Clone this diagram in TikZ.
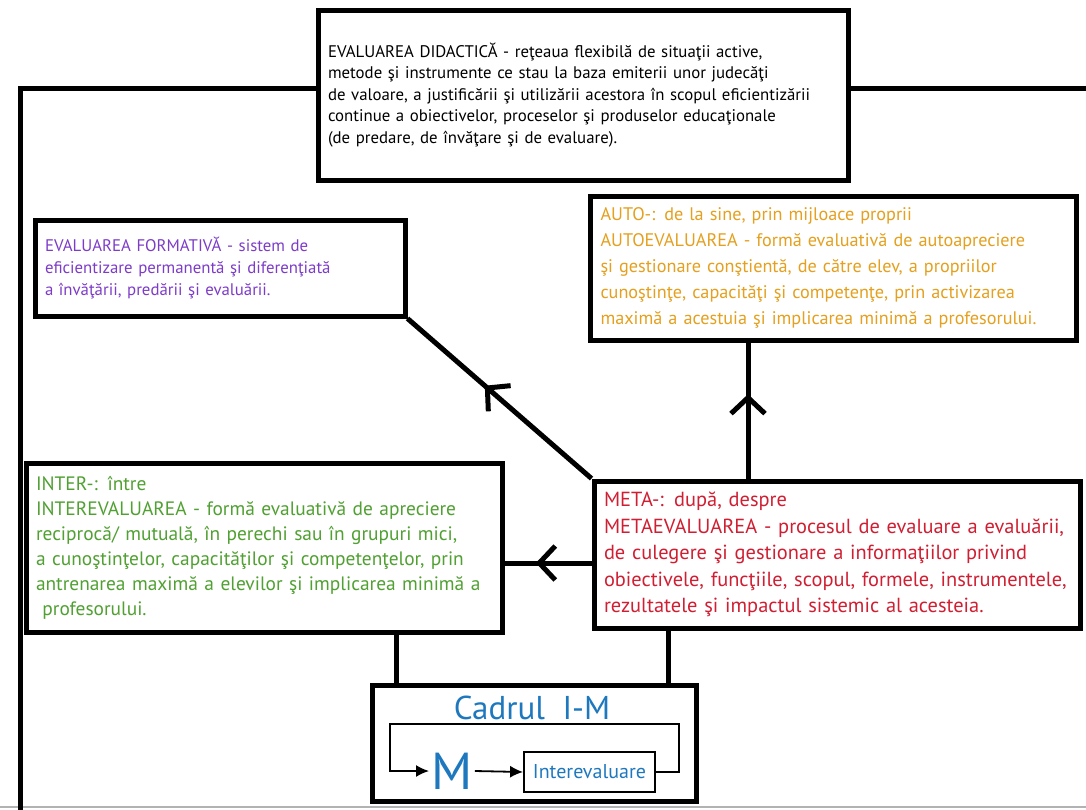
\documentclass[tikz,border=0pt]{standalone}
\usepackage{fontspec}
\setmainfont{PT Sans}
\usetikzlibrary{arrows.meta,decorations.markings}
\definecolor{formcol}{RGB}{125,60,200}
\definecolor{autocol}{RGB}{228,160,30}
\definecolor{intercol}{RGB}{80,160,50}
\definecolor{metacol}{RGB}{208,30,50}
\definecolor{cadrucol}{RGB}{30,120,190}

\begin{document}
\begin{tikzpicture}[x=0.5pt,y=-0.5pt,
	box/.style={draw,line width=2.5pt,fill=white,align=left,inner sep=5pt},
	conn/.style={line width=2.5pt},
	midarrow/.style={postaction={decorate},decoration={markings,
		mark=at position #1 with {\arrow{Straight Barb[length=8pt,width=17pt,line width=2.5pt]}}}}]
		\useasboundingbox (0,0) rectangle (1086,809);
		\draw[gray!60,line width=0.6pt] (0,807) -- (1086,807);
		% boxes
		\node[box,minimum width=265pt,minimum height=85pt,text width=255pt,
			font=\fontsize{8.4}{10.75}\selectfont] (didact) at (583,95)
			{EVALUAREA DIDACTICĂ - reţeaua flexibilă de situaţii active,\\
			metode şi instrumente ce stau la baza emiterii unor judecăţi\\
			de valoare, a justificării şi utilizării acestora în scopul eficientizării\\
			continue a obiectivelor, proceselor şi produselor educaţionale\\
			(de predare, de învăţare şi de evaluare).};
		\node[box,minimum width=185pt,minimum height=48pt,text width=175pt,text=formcol,
			font=\fontsize{8.4}{11}\selectfont] (formativ) at (220,268)
			{EVALUAREA FORMATIVĂ - sistem de\\
			eficientizare permanentă şi diferenţiată\\
			a învăţării, predării şi evaluării.};
		\node[box,minimum width=241.5pt,minimum height=72pt,text width=233pt,text=autocol,
			font=\fontsize{9.1}{13}\selectfont] (auto) at (833.5,268)
			{AUTO-: de la sine, prin mijloace proprii\\
			AUTOEVALUAREA - formă evaluativă de autoapreciere\\
			şi gestionare conştientă, de către elev, a propriilor\\
			cunoştinţe, capacităţi şi competenţe, prin activizarea\\
			maximă a acestuia şi implicarea minimă a profesorului.};
		\node[box,minimum width=236pt,minimum height=84.5pt,text width=228pt,text=intercol,
			font=\fontsize{9.7}{12.5}\selectfont] (inter) at (264,547.5)
			{INTER-: între\\
			INTEREVALUAREA - formă evaluativă de apreciere\\
			reciprocă/ mutuală, în perechi sau în grupuri mici,\\
			a cunoştinţelor, capacităţilor şi competenţelor, prin\\
			antrenarea maximă a elevilor şi implicarea minimă a\\
			\ profesorului.};
		\node[box,minimum width=241pt,minimum height=73.5pt,text width=233pt,text=metacol,
			font=\fontsize{10.2}{13.2}\selectfont] (meta) at (837,554.5)
			{META-: după, despre\\
			METAEVALUAREA - procesul de evaluare a evaluării,\\
			de culegere şi gestionare a informaţiilor privind\\
			obiectivele, funcţiile, scopul, formele, instrumentele,\\
			rezultatele şi impactul sistemic al acesteia.};
		\node[box,minimum width=162pt,minimum height=58pt] (cadru) at (534,743.5) {};
		% frame round the picture
		\coordinate (fl) at (20,88);
		\coordinate (fb) at (20,812);
		\coordinate (fr) at (1090,88);
		\draw[conn] (fb) -- (fl) -- (fl -| didact.west);
		\draw[conn] (fl -| didact.east) -- (fr);
		% connectors from META
		\coordinate (ax) at (748,0);
		\coordinate (iy) at (0,563);
		\coordinate (c1) at (396,0);
		\coordinate (c2) at (668,0);
		\draw[conn,midarrow=0.58] (meta.north west) -- (formativ.south east);
		\draw[conn,midarrow=0.62] (ax |- meta.north) -- (ax |- auto.south);
		\draw[conn,midarrow=0.64] (iy -| meta.west) -- (iy -| inter.east);
		\draw[conn] (c1 |- inter.south) -- (c1 |- cadru.north);
		\draw[conn] (c2 |- meta.south) -- (c2 |- cadru.north);
		% inside the I-M frame
		\node[text=cadrucol,font=\fontsize{16.5}{18}\selectfont] (cadtitle) at (532,708) {Cadrul\ \ I-M};
		\node[text=cadrucol,font=\fontsize{26}{28}\selectfont,inner sep=1pt] (mnode) at (452,771) {M};
		\node[draw,line width=0.9pt,minimum width=65.5pt,minimum height=20pt,inner sep=1pt,
			text=cadrucol,font=\fontsize{10}{11}\selectfont] (ieval) at (589.5,772) {Interevaluare};
		\coordinate (lt) at (390,724);
		\coordinate (rt) at (679,724);
		\draw[line width=0.9pt,-{Latex[length=6.5pt,width=6pt]}] (ieval.east) -| (rt) -- (lt) |- (mnode.west);
		\draw[line width=0.9pt,-{Latex[length=6.5pt,width=6pt]}] (mnode.east) -- (ieval.west);
\end{tikzpicture}
\end{document}
